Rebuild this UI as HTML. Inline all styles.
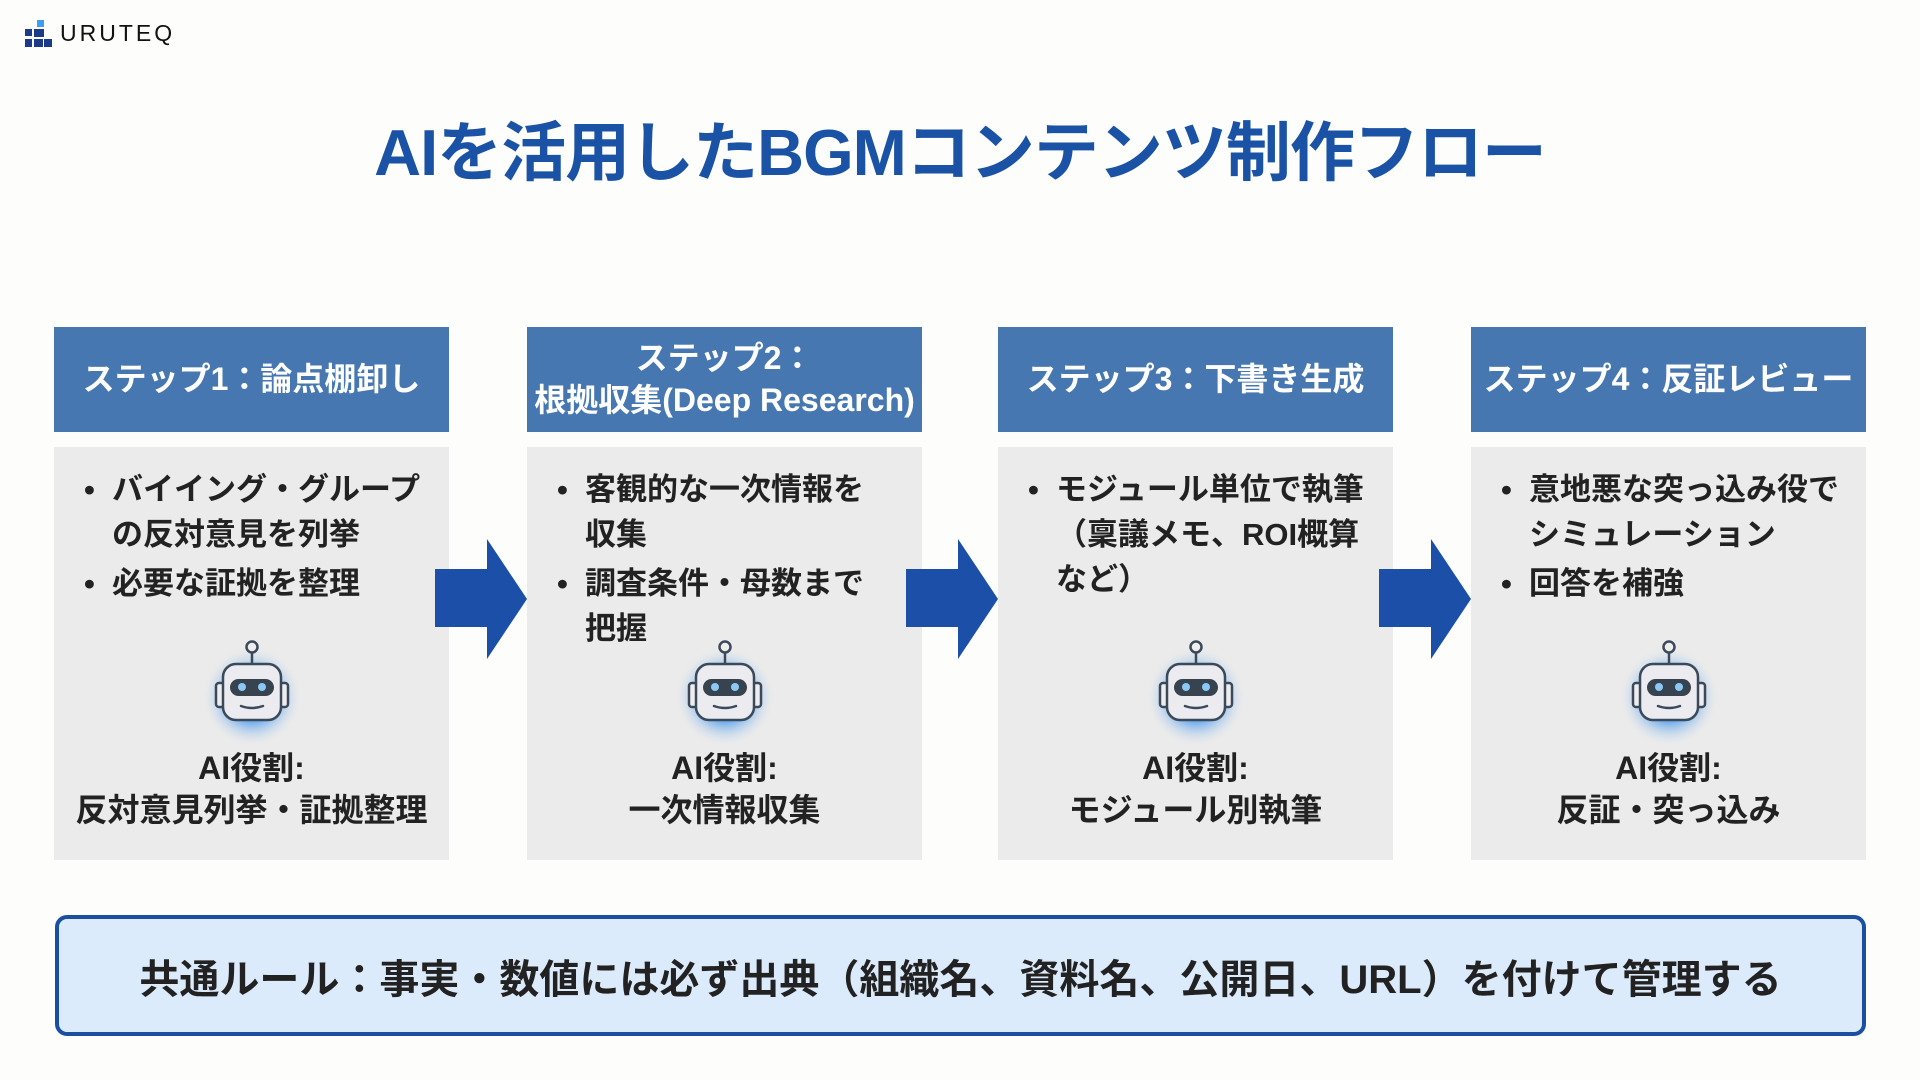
<!DOCTYPE html>
<html><head><meta charset="utf-8"><style>
*{margin:0;padding:0;box-sizing:border-box}
body{width:1920px;height:1080px;background:#fdfdfc;position:relative;overflow:hidden;font-family:"Liberation Sans","Noto Sans CJK JP",sans-serif}
.abs{position:absolute}
.title{left:0;width:1920px;top:100px;text-align:center;font-size:65px;font-weight:bold;color:#1a52a5;letter-spacing:-1px}
.hdr{background:#4677b0;color:#fff;font-weight:bold;font-size:32px;display:flex;align-items:center;justify-content:center;text-align:center;line-height:1.3;width:395px;height:105px;top:327px}
.body{background:#ebebeb;width:395px;height:413px;top:447px}
.bl{position:absolute;left:30px;right:10px;top:20px;font-size:31px;font-weight:bold;color:#222;line-height:45px}
.bl div{padding-left:28px;position:relative}
.bl div.b:before{content:"•";position:absolute;left:0}
.role{position:absolute;left:0;width:100%;top:300px;text-align:center;font-size:32px;font-weight:bold;color:#222;line-height:42px}
.robot{position:absolute;left:147px;top:190px}
.arrow{top:539px}
.rule{left:55px;top:915px;width:1811px;height:121px;border:4px solid #1b4fa0;border-radius:12px;background:#dcebfb;font-size:40px;font-weight:bold;color:#222;display:flex;align-items:center;justify-content:center}
</style></head><body>
<div class="abs" style="left:25px;top:20px">
<svg width="28" height="28"><rect x="12" y="0" width="7" height="7" fill="#3aa0ef"/><rect x="0" y="9" width="7" height="7" fill="#1b3a8a"/><rect x="9" y="9" width="10" height="8" fill="#1b3a8a"/><rect x="0" y="19" width="7" height="8" fill="#1b3a8a"/><rect x="9" y="19" width="9" height="8" fill="#1b3a8a"/><rect x="19" y="19" width="8" height="8" fill="#1b3a8a"/></svg></div>
<div class="abs" style="left:60px;top:20px;font-size:23px;letter-spacing:3px;color:#111">URUTEQ</div>
<div class="abs title">AIを活用したBGMコンテンツ制作フロー</div>

<svg width="0" height="0" style="position:absolute"><defs><radialGradient id="g"><stop offset="0.45" stop-color="#5aa2ee"/><stop offset="1" stop-color="#ebebeb" stop-opacity="0"/></radialGradient>
<g id="rb"><circle cx="51" cy="60" r="50" fill="url(#g)"/><circle cx="51" cy="10" r="5.5" fill="#eee" stroke="#3a4a5a" stroke-width="2.5"/><line x1="51" y1="15.5" x2="51" y2="27" stroke="#3a4a5a" stroke-width="2.5"/><rect x="15" y="46" width="9" height="24" rx="3" fill="#eee" stroke="#3a4a5a" stroke-width="2.5"/><rect x="78" y="46" width="9" height="24" rx="3" fill="#eee" stroke="#3a4a5a" stroke-width="2.5"/><rect x="22" y="27" width="58" height="56" rx="13" fill="#ececf0" stroke="#3a4a5a" stroke-width="2.5"/><rect x="29" y="42" width="44" height="17" rx="8.5" fill="#37434f"/><circle cx="41" cy="50" r="4" fill="#8cc8f5"/><circle cx="61" cy="50" r="4" fill="#8cc8f5"/><path d="M40 69 Q51 73 62 69" fill="none" stroke="#3a4a5a" stroke-width="2.5" stroke-linecap="round"/></g></defs></svg>

<div class="abs hdr" style="left:54px">ステップ1：論点棚卸し</div>
<div class="abs body" style="left:54px"><div class="bl"><div class="b">バイイング・グループ</div><div>の反対意見を列挙</div><div class="b" style="margin-top:4px">必要な証拠を整理</div></div>
<svg class="robot" width="102" height="110"><use href="#rb"/></svg>
<div class="role">AI役割:<br>反対意見列挙・証拠整理</div></div>

<div class="abs hdr" style="left:527px">ステップ2：<br>根拠収集(Deep Research)</div>
<div class="abs body" style="left:527px"><div class="bl"><div class="b">客観的な一次情報を</div><div>収集</div><div class="b" style="margin-top:4px">調査条件・母数まで</div><div>把握</div></div>
<svg class="robot" width="102" height="110"><use href="#rb"/></svg>
<div class="role">AI役割:<br>一次情報収集</div></div>

<div class="abs hdr" style="left:998px">ステップ3：下書き生成</div>
<div class="abs body" style="left:998px"><div class="bl"><div class="b">モジュール単位で執筆</div><div>（稟議メモ、ROI概算</div><div>など）</div></div>
<svg class="robot" width="102" height="110"><use href="#rb"/></svg>
<div class="role">AI役割:<br>モジュール別執筆</div></div>

<div class="abs hdr" style="left:1471px">ステップ4：反証レビュー</div>
<div class="abs body" style="left:1471px"><div class="bl"><div class="b">意地悪な突っ込み役で</div><div>シミュレーション</div><div class="b" style="margin-top:4px">回答を補強</div></div>
<svg class="robot" width="102" height="110"><use href="#rb"/></svg>
<div class="role">AI役割:<br>反証・突っ込み</div></div>

<svg class="abs arrow" style="left:435px" width="92" height="120"><polygon points="0,30 52,30 52,0 92,60 52,120 52,88 0,88" fill="#1c4fa8"/></svg>
<svg class="abs arrow" style="left:906px" width="92" height="120"><polygon points="0,30 52,30 52,0 92,60 52,120 52,88 0,88" fill="#1c4fa8"/></svg>
<svg class="abs arrow" style="left:1379px" width="92" height="120"><polygon points="0,30 52,30 52,0 92,60 52,120 52,88 0,88" fill="#1c4fa8"/></svg>

<div class="abs rule">共通ルール：事実・数値には必ず出典（組織名、資料名、公開日、URL）を付けて管理する</div>
</body></html>
